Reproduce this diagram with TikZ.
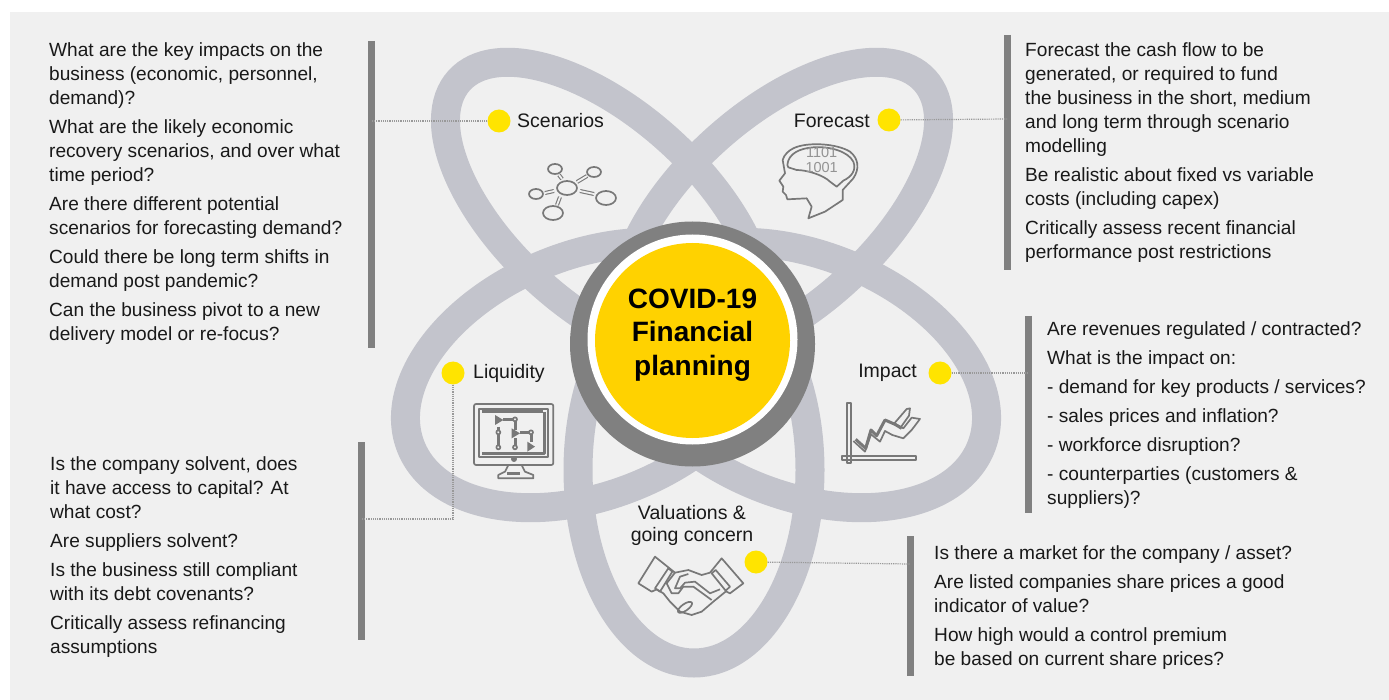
\documentclass[tikz,border=0pt]{standalone}
\usepackage{fontspec}
\setmainfont{Liberation Sans}
\definecolor{panelgray}{RGB}{240,240,240}
\definecolor{petalgray}{RGB}{195,196,204}
\definecolor{bargray}{RGB}{128,128,128}
\definecolor{iconborder}{RGB}{120,120,120}
\definecolor{dotyellow}{RGB}{255,228,0}
\definecolor{coreyellow}{RGB}{255,210,0}
\tikzset{
  petal/.style={draw=petalgray,line width=29pt},
  sidebar/.style={line width=7pt,draw=bargray},
  leader/.style={draw=bargray!80,densely dotted,line width=1.2pt},
  dot/.style={circle,fill=dotyellow,minimum size=23pt,inner sep=0pt},
  tag/.style={font=\fontsize{19.5}{22}\selectfont,text=black!90,align=center,inner sep=0pt},
  para/.style={font=\fontsize{19.1}{24}\selectfont,text=black!90,align=left,anchor=north west,inner sep=0pt},
  icon/.style={draw=iconborder,line width=1.7pt,line join=round},
  iconlink/.style={draw=iconborder,line width=1.1pt,double=panelgray,double distance=1.8pt},
  iconthick/.style={draw=iconborder,line width=3pt,line join=round},
  icontext/.style={font=\fontsize{14.5}{16}\selectfont,text=bargray!85,inner sep=0pt},
}
\begin{document}
\begin{tikzpicture}[x=1pt,y=-1pt]
        \useasboundingbox (0,0) rectangle (1389,700);
        \fill[panelgray] (10,12) rectangle (1389,700);
        % petals
        \draw[petal] (694,470) ellipse [x radius=116,y radius=193];
        \draw[petal,shift={(590,375)},rotate=22] (0,0) ellipse [x radius=193,y radius=120];
        \draw[petal,shift={(802,375)},rotate=-22] (0,0) ellipse [x radius=193,y radius=120];
        \draw[petal,shift={(604,211)},rotate=-42] (0,0) ellipse [x radius=195,y radius=96];
        \draw[petal,shift={(780,211)},rotate=42] (0,0) ellipse [x radius=195,y radius=96];
        % centre
        \node[circle,fill=bargray,minimum size=245pt,inner sep=0pt] (ring) at (692.5,344) {};
        \node[circle,fill=white,minimum size=210pt,inner sep=0pt] (halo) at (692.5,339.5) {};
        \node[circle,fill=coreyellow,minimum size=195pt,inner sep=0pt] (core) at (692.5,340.5) {};
        \node[align=center,inner sep=0pt,font=\fontsize{28}{33.5}\selectfont\bfseries] (title) at (692.5,335) {COVID-19\\Financial\\planning};
        % tags
        \node[dot] (scendot) at (499,121) {};
        \node[tag,anchor=west] (scen) at (517,121) {Scenarios};
        \node[dot] (foredot) at (889,120) {};
        \node[tag,anchor=east] (fore) at (870,121) {Forecast};
        \node[dot] (liqdot) at (453,373) {};
        \node[tag,anchor=west] (liq) at (473,373) {Liquidity};
        \node[dot] (impdot) at (940,373) {};
        \node[tag,anchor=east] (imp) at (917,373) {Impact};
        \node[dot] (valdot) at (756,562) {};
        \node[tag] (val) at (692,525) {Valuations \&\\going concern};
        % sidebars
        \coordinate (scentop) at (371,41);
        \coordinate (scenbot) at (371,348);
        \coordinate (foretop) at (1007,35);
        \coordinate (forebot) at (1007,270);
        \coordinate (imptop) at (1028,316);
        \coordinate (impbot) at (1028,513);
        \coordinate (valtop) at (910,536);
        \coordinate (valbot) at (910,676);
        \coordinate (liqtop) at (361,442);
        \coordinate (liqbot) at (361,640);
        \draw[sidebar] (scentop) -- (scenbot);
        \draw[sidebar] (foretop) -- (forebot);
        \draw[sidebar] (imptop) -- (impbot);
        \draw[sidebar] (valtop) -- (valbot);
        \draw[sidebar] (liqtop) -- (liqbot);
        % leaders
        \coordinate (scenfoot) at (371,121);
        \coordinate (forefoot) at (1007,119);
        \coordinate (impfoot) at (1028,373);
        \coordinate (valfoot) at (910,564);
        \coordinate (liqfoot) at (361,519);
        \draw[leader] (scendot) -- (scenfoot);
        \draw[leader] (foredot) -- (forefoot);
        \draw[leader] (impdot) -- (impfoot);
        \draw[leader] (valdot) -- (valfoot);
        \draw[leader] (liqdot.south) |- (liqfoot);
        % scenarios icon
        \draw[icon] (567,188) ellipse [x radius=10,y radius=7];
        \draw[icon] (555,169) ellipse [x radius=7,y radius=5];
        \draw[icon] (594,172) ellipse [x radius=7,y radius=5];
        \draw[icon] (536,194) ellipse [x radius=7,y radius=5];
        \draw[icon] (606,198) ellipse [x radius=10,y radius=7];
        \draw[icon] (553,213) ellipse [x radius=10,y radius=7];
        \draw[iconlink] (559,175) -- (562,179);
        \draw[iconlink] (577,182) -- (587,176);
        \draw[iconlink] (545,193) -- (554,191);
        \draw[iconlink] (580,191) -- (594,194);
        \draw[iconlink] (560,197) -- (557,205);
        % forecast icon
        \begin{scope}[shift={(770,140)},scale=0.3333]
        \draw[icon] (38,60) -- (45,100) -- (28,122) -- (40,140) -- (38,155) -- (48,165) -- (52,178) -- (110,175) -- (125,200) -- (115,235) -- (165,215) -- (218,180) -- (218,150) -- (250,115) .. controls (270,85) and (265,55) .. (240,35) .. controls (200,10) and (110,5) .. (70,25) .. controls (55,32) and (42,45) .. (38,60);
        \draw[icon] (52,75) .. controls (55,40) and (90,25) .. (130,22) .. controls (180,18) and (235,35) .. (250,65) .. controls (260,90) and (245,110) .. (220,122) -- (200,140) -- (180,125) .. controls (160,105) and (110,90) .. (80,90) -- (55,82) -- cycle;
        \node[icontext] (binone) at (155,38) {1101};
        \node[icontext] (bintwo) at (155,82) {1001};
        \end{scope}
        % liquidity icon
        \begin{scope}[shift={(470,400)},scale=0.3333]
        \draw[icon,rounded corners=2pt] (12,12) rectangle (250,195);
        \draw[icon] (28,28) rectangle (235,170);
        \draw[iconthick] (35,36) -- (220,36);
        \draw[iconthick] (225,36) -- (225,160) -- (35,160);
        \fill[iconborder] (132,177) circle (9);
        \draw[icon] (115,195) -- (105,215) -- (85,225) -- (85,235) -- (190,235) -- (190,225) -- (165,215) -- (155,195);
        \draw[iconthick] (110,222) -- (150,222);
        \draw[iconthick] (100,58) -- (135,58) -- (135,90);
        \draw[iconthick] (85,80) -- (85,142);
        \draw[iconthick] (135,115) -- (135,142);
        \draw[iconthick] (150,97) -- (183,97) -- (183,125);
        \fill[iconborder] (75,45) -- (75,75) -- (100,60) -- cycle;
        \fill[iconborder] (125,85) -- (125,115) -- (150,100) -- cycle;
        \fill[iconborder] (172,125) -- (172,155) -- (195,140) -- cycle;
        \draw[icon,fill=panelgray] (135,58) circle (6);
        \draw[icon,fill=panelgray] (183,97) circle (6);
        \draw[icon,fill=panelgray] (85,97) circle (6);
        \draw[icon,fill=panelgray] (85,142) circle (6);
        \draw[icon,fill=panelgray] (135,142) circle (6);
        \end{scope}
        % impact icon
        \begin{scope}[shift={(835,395)},scale=0.3333]
        \draw[icon] (35,25) rectangle (47,205);
        \draw[icon] (20,183) rectangle (242,195);
        \draw[icon] (55,138) -- (90,170) -- (108,118) -- (135,140) -- (150,108) -- (172,120) -- (205,130) -- (230,105) -- (255,72) -- (230,68) -- (205,100) -- (178,85) -- (215,42) -- (225,40) -- (222,62) -- (195,100);
        \draw[iconthick] (62,133) -- (92,160) -- (108,105) -- (125,122) -- (150,75) -- (180,88) -- (200,100);
        \end{scope}
        % valuations icon
        \begin{scope}[shift={(630,550)},scale=0.3333]
        \draw[icon] (25,100) -- (75,20) -- (135,68) -- (175,60) -- (215,75) -- (240,68) -- (275,25) -- (340,100) -- (300,130) -- (288,124) -- (250,155) -- (215,185) -- (185,195) -- (150,185) -- (120,155) -- (100,130) -- (80,118) -- (65,125) -- cycle;
        \draw[icon] (75,115) -- (115,55) -- (127,65) -- (90,125) -- cycle;
        \draw[icon] (245,70) -- (257,60) -- (300,110) -- (287,122) -- cycle;
        \draw[icon] (135,68) -- (110,100) -- (125,130) -- (145,130) -- (160,110) -- (190,110) -- (245,150);
        \draw[icon] (175,72) -- (150,80) -- (135,115) -- (150,115) -- (165,98) -- (195,95) -- (240,130) -- (270,118);
        \draw[icon,rotate around={35:(165,172)}] (165,172) ellipse [x radius=25,y radius=10];
        \end{scope}
        % texts
        \node[para] (scentext) at (49,42) {What are the key impacts on the\\business (economic, personnel,\\demand)?\\[5pt]What are the likely economic\\recovery scenarios, and over what\\time period?\\[5pt]Are there different potential\\scenarios for forecasting demand?\\[5pt]Could there be long term shifts in\\demand post pandemic?\\[5pt]Can the business pivot to a new\\delivery model or re-focus?};
        \node[para] (foretext) at (1025,42) {Forecast the cash flow to be\\generated, or required to fund\\the business in the short, medium\\and long term through scenario\\modelling\\[5pt]Be realistic about fixed vs variable\\costs (including capex)\\[5pt]Critically assess recent financial\\performance post restrictions};
        \node[para] (imptext) at (1047,321) {Are revenues regulated / contracted?\\[5pt]What is the impact on:\\[5pt]- demand for key products / services?\\[5pt]- sales prices and inflation?\\[5pt]- workforce disruption?\\[5pt]- counterparties (customers \&\\suppliers)?};
        \node[para] (valtext) at (934,545) {Is there a market for the company / asset?\\[5pt]Are listed companies share prices a good\\indicator of value?\\[5pt]How high would a control premium\\be based on current share prices?};
        \node[para] (liqtext) at (50,456) {Is the company solvent, does\\it have access to capital? At\\what cost?\\[5pt]Are suppliers solvent?\\[5pt]Is the business still compliant\\with its debt covenants?\\[5pt]Critically assess refinancing\\assumptions};
\end{tikzpicture}
\end{document}
